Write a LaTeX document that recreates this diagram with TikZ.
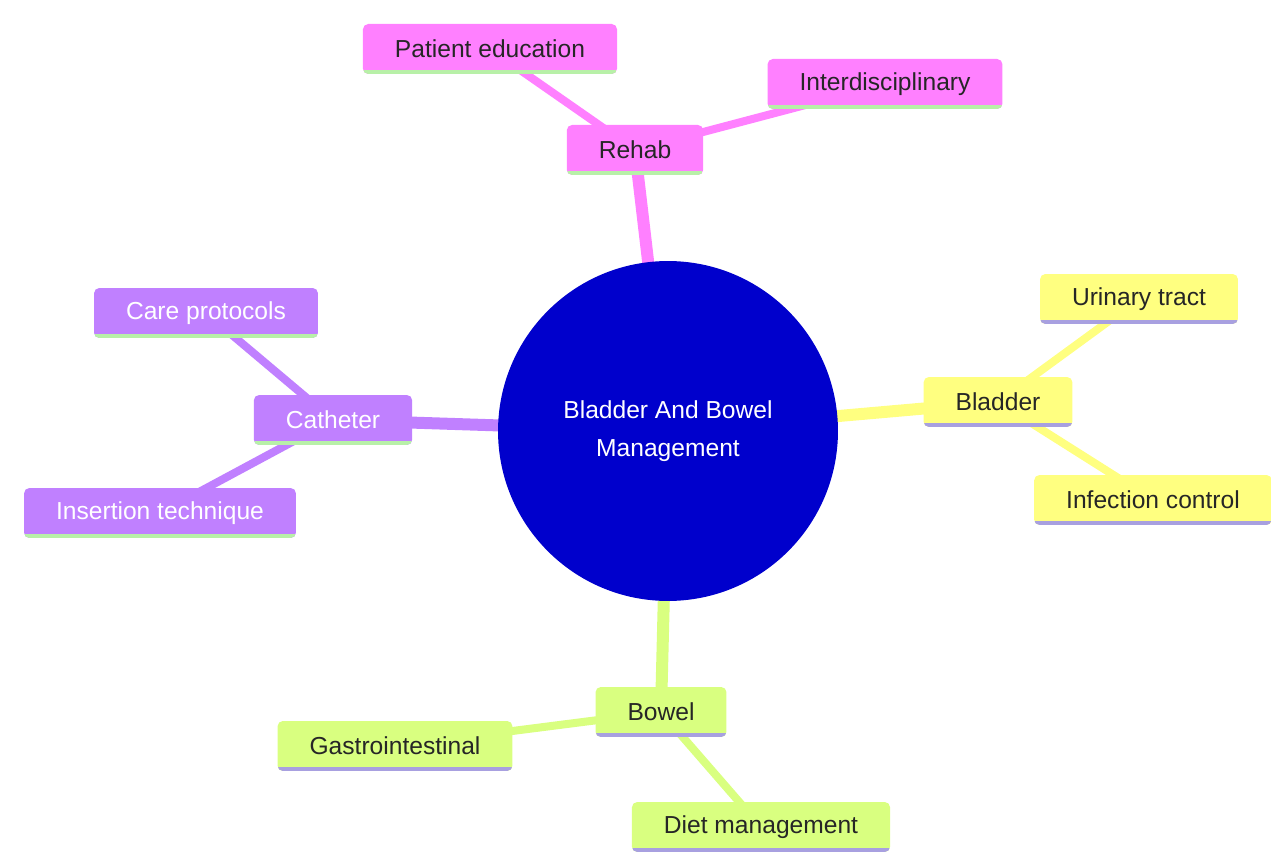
\documentclass[tikz,border=0pt]{standalone}
\usepackage{fontspec}
\setmainfont{Liberation Sans}
\usetikzlibrary{backgrounds}

\definecolor{rehabpink}{HTML}{FF80FF}
\definecolor{bladderyellow}{HTML}{FFFF80}
\definecolor{bowelgreen}{HTML}{D9FF80}
\definecolor{catheterpurple}{HTML}{C080FF}
\definecolor{hubblue}{HTML}{0000CC}
\definecolor{rimgreen}{HTML}{B8F0A8}
\definecolor{rimlilac}{HTML}{A8A0E0}

\tikzset{
  topic/.style 2 args={fill=#1, rounded corners=3pt, minimum height=1cm, inner xsep=0.64cm,
    font=\fontsize{14}{17}\selectfont, text=black!85,
    path picture={\fill[#2, sharp corners] (path picture bounding box.south west) rectangle ([yshift=0.07cm]path picture bounding box.south east);}},
  branch/.style={line width=0.24cm},
  twig/.style={line width=0.16cm}
}

\begin{document}
\begin{tikzpicture}[x=0.02cm,y=-0.02cm]

\useasboundingbox (0,0) rectangle (1271,854);

\node [circle, fill=hubblue, minimum size=6.8cm, text=white, align=center, font=\fontsize{14}{21.5}\selectfont] (hub) at (668,431) {Bladder And Bowel\\Management};

\node [topic={rehabpink}{rimgreen}] (rehab) at (635,150) {Rehab};

\node [topic={rehabpink}{rimgreen}] (education) at (490,49) {Patient education};

\node [topic={rehabpink}{rimgreen}] (interdisc) at (885,84) {Interdisciplinary};

\node [topic={bladderyellow}{rimlilac}] (bladder) at (998,402) {Bladder};

\node [topic={bladderyellow}{rimlilac}] (urinary) at (1139,299) {Urinary tract};

\node [topic={bladderyellow}{rimlilac}] (infection) at (1153,500) {Infection control};

\node [topic={bowelgreen}{rimlilac}] (bowel) at (661,712) {Bowel};

\node [topic={bowelgreen}{rimlilac}] (gastro) at (395,746) {Gastrointestinal};

\node [topic={bowelgreen}{rimlilac}] (diet) at (761,827) {Diet management};

\node [topic={catheterpurple}{rimgreen}, text=white] (catheter) at (333,420) {Catheter};

\node [topic={catheterpurple}{rimgreen}, text=white] (care) at (206,313) {Care protocols};

\node [topic={catheterpurple}{rimgreen}, text=white] (insertion) at (160,513) {Insertion technique};

\begin{pgfonlayer}{background}

\draw [branch, rehabpink] (hub.center) -- (rehab.center);
\draw [twig, rehabpink] (rehab.center) -- (education.center);
\draw [twig, rehabpink] (rehab.center) -- (interdisc.center);

\draw [branch, bladderyellow] (hub.center) -- (bladder.center);
\draw [twig, bladderyellow] (bladder.center) -- (urinary.center);
\draw [twig, bladderyellow] (bladder.center) -- (infection.center);

\draw [branch, bowelgreen] (hub.center) -- (bowel.center);
\draw [twig, bowelgreen] (bowel.center) -- (gastro.center);
\draw [twig, bowelgreen] (bowel.center) -- (diet.center);

\draw [branch, catheterpurple] (hub.center) -- (catheter.center);
\draw [twig, catheterpurple] (catheter.center) -- (care.center);
\draw [twig, catheterpurple] (catheter.center) -- (insertion.center);

\end{pgfonlayer}

\end{tikzpicture}
\end{document}
